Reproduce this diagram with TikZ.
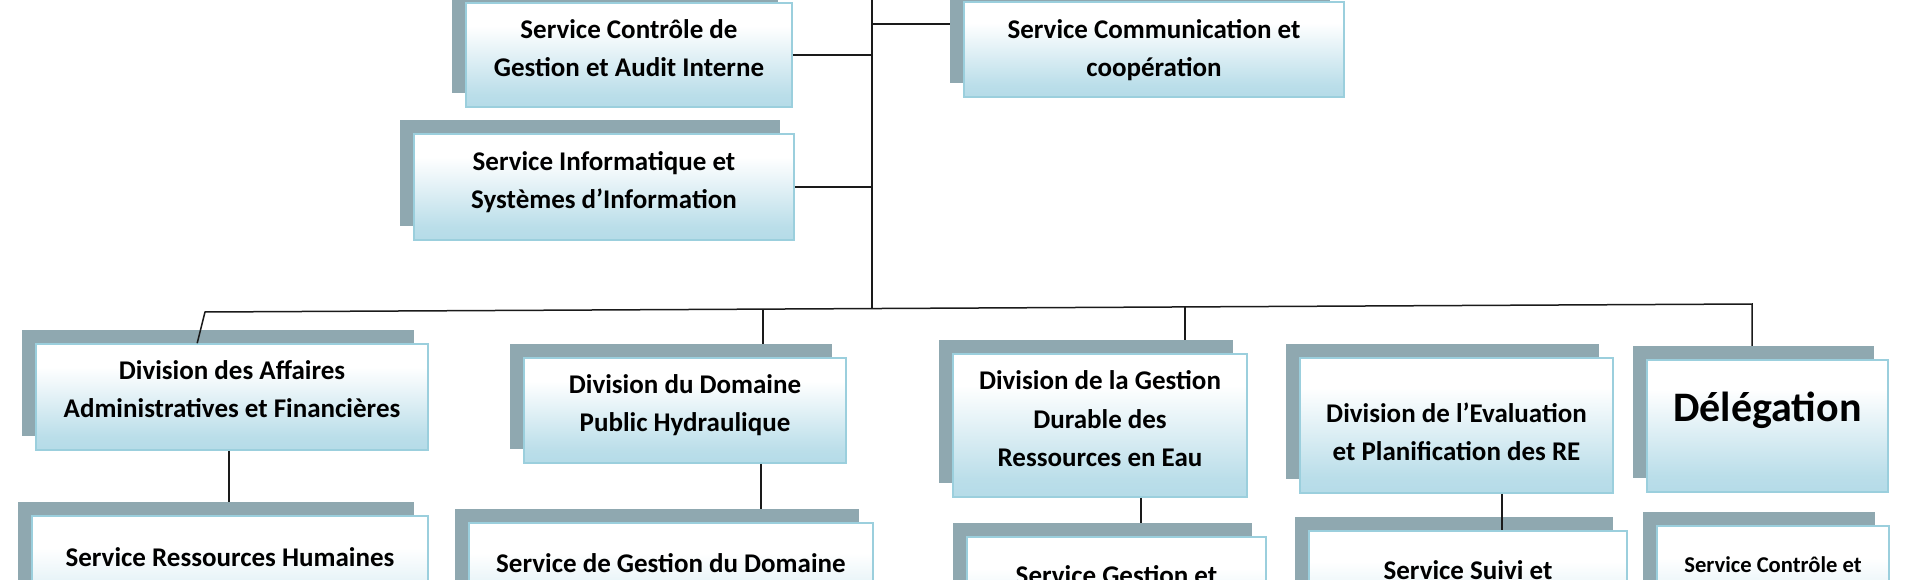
\documentclass[tikz,border=0pt]{standalone}
\usepackage{fontspec}
\setmainfont{Carlito}
\usetikzlibrary{calc}
\definecolor{shadowc}{HTML}{8FA8B0}
\definecolor{edgec}{HTML}{9BCFDD}
\definecolor{linec}{HTML}{1A1A1A}
\pgfdeclareverticalshading{boxgrad}{100bp}{rgb(0bp)=(0.71,0.86,0.91); rgb(25bp)=(0.71,0.86,0.91); rgb(31bp)=(0.73,0.87,0.915); rgb(64bp)=(1,1,1); rgb(100bp)=(1,1,1)}
\newcommand\orgbox[5]{%
  \node[shadowbox, minimum width=#4pt, minimum height=#5pt] (#1S) at (#2-14,#3-14) {};
  \node[frontbox, minimum width=#4pt, minimum height=#5pt] (#1) at (#2,#3) {};
}
\begin{document}
\begin{tikzpicture}[x=1pt,y=-1pt,
  frontbox/.style={rectangle, inner sep=0pt, draw=edgec, line width=1.6pt, shading=boxgrad},
  shadowbox/.style={rectangle, inner sep=0pt, fill=shadowc, draw=none},
  lbl/.style={inner sep=0pt, align=center, font=\bfseries\fontsize{27}{38.5}\selectfont},
  conn/.style={draw=linec, line width=1.5pt}]
\useasboundingbox (0,0) rectangle (1920,580);
\begin{scope}
\clip (0,0) rectangle (1920,580);
\fill[white] (0,0) rectangle (1920,580);
% boxes: name, cx, cy, w, h
\orgbox{cgai}{629}{55}{326}{104}
\orgbox{si}{604}{187}{380}{106}
\orgbox{comm}{1154}{49.5}{380}{95}
\orgbox{daaf}{232}{397}{392}{106}
\orgbox{ddph}{685}{410.5}{322}{105}
\orgbox{dgdre}{1100}{425.5}{294}{143}
\orgbox{deval}{1456.5}{425.5}{313}{135}
\orgbox{deleg}{1767.5}{426}{241}{132}
\orgbox{srh}{230}{588}{396}{144}
\orgbox{sgdom}{671}{591.5}{404}{137}
\orgbox{sgest}{1116.5}{608.5}{299}{143}
\orgbox{ssuivi}{1468}{600.5}{318}{139}
\orgbox{sctrl}{1773}{598}{232}{144}
% connectors
\coordinate (ttop) at (872,-5);
\coordinate (jt) at (872,308.6);
\coordinate (bL) at (205,312);
\coordinate (bR) at (1752,304);
\coordinate (j2) at (763,309.1);
\coordinate (j3) at (1185,306.9);
\coordinate (c3) at (872,24);
\coordinate (v1) at (229,0);
\coordinate (v2) at (761,0);
\coordinate (v3) at (1141,0);
\coordinate (v4) at (1502,0);
\draw[conn] (ttop) -- (jt);
\draw[conn] (cgai.east) -- (cgai.east -| ttop);
\draw[conn] (si.east) -- (si.east -| ttop);
\draw[conn] (c3) -- (c3 -| commS.west);
\draw[conn] ($(daaf.north west)+(162,0)$) -- (bL) -- (bR) -- (bR |- delegS.north);
\draw[conn] (j2) -- (j2 |- ddphS.north);
\draw[conn] (j3) -- (j3 |- dgdreS.north);
\draw[conn] (v1 |- daaf.south) -- (v1 |- srhS.north);
\draw[conn] (v2 |- ddph.south) -- (v2 |- sgdomS.north);
\draw[conn] (v3 |- dgdre.south) -- (v3 |- sgestS.north);
\draw[conn] (v4 |- deval.south) -- (v4 |- ssuivi.north);
% texts
\node[lbl] (t1) at (629,48) {Service Contrôle de\\Gestion et Audit Interne};
\node[lbl] (t2) at (604,182) {Service Informatique et\\Systèmes d’Information};
\node[lbl] (t3) at (1154,50) {Service Communication et\\coopération};
\node[lbl] (t4) at (232,389) {Division des Affaires\\Administratives et Financières};
\node[lbl] (t5) at (685,405) {Division du Domaine\\Public Hydraulique};
\node[lbl] (t6) at (1100,419) {Division de la Gestion\\Durable des\\Ressources en Eau};
\node[lbl] (t7) at (1456.5,432) {Division de l’Evaluation\\et Planification des RE};
\node[lbl, font=\bfseries\fontsize{42}{50}\selectfont] (t8) at (1767.5,410) {Délégation};
\node[lbl] (t9) at (230,557) {Service Ressources Humaines};
\node[lbl] (t10) at (671,563) {Service de Gestion du Domaine};
\node[lbl] (t11) at (1116.5,575) {Service Gestion et};
\node[lbl] (t12) at (1468,570) {Service Suivi et};
\node[lbl, font=\bfseries\fontsize{22.6}{32}\selectfont] (t13) at (1773,565) {Service Contrôle et};
\end{scope}
\end{tikzpicture}
\end{document}
